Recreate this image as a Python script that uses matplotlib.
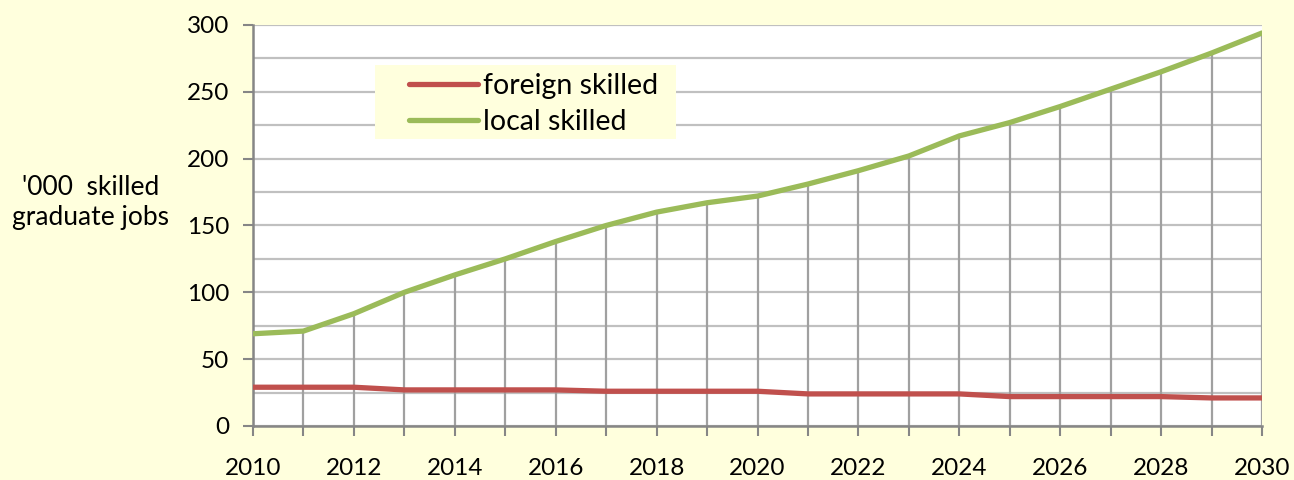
import numpy as np
import matplotlib
matplotlib.use("Agg")
import matplotlib.pyplot as plt
from matplotlib.patches import Rectangle

years = list(range(2010, 2031))
foreign = [29, 29, 29, 27, 27, 27, 27, 26, 26, 26, 26, 24, 24, 24, 24, 22, 22, 22, 22, 21, 21]
local = [69, 71, 84, 100, 113, 125, 138, 150, 160, 167, 172, 181, 191, 202, 217, 227, 239, 252, 265, 279, 294]

plt.rcParams['font.family'] = ['Lato', 'DejaVu Sans']

bg = '#ffffdd'
fig = plt.figure(figsize=(12.94, 4.8), dpi=100, facecolor=bg)
ax = fig.add_axes([0.1955, 0.1125, 0.7798, 0.8355])
ax.set_facecolor('white')

# drop lines from the local series down to zero
ax.vlines(years, 0, local, colors='#a0a0a0', lw=1.6, zorder=1)

ax.plot(years, foreign, color='#c0504d', lw=3.8, solid_capstyle='round', label='foreign skilled', zorder=3)
ax.plot(years, local, color='#9bbb59', lw=3.8, solid_capstyle='round', label='local skilled', zorder=3)

ax.set_xlim(2010, 2030)
ax.set_ylim(0, 300)
ax.set_yticks(np.arange(0, 301, 50))
ax.set_yticks(np.arange(0, 301, 25), minor=True)
ax.set_xticks(np.arange(2010, 2031, 2))
ax.set_xticks(np.arange(2011, 2030, 2), minor=True)
ax.grid(axis='y', which='both', color='#c0c0c0', lw=1.6, zorder=0)
ax.set_axisbelow(True)

for s in ['top', 'right']:
    ax.spines[s].set_visible(False)
for s in ['left', 'bottom']:
    ax.spines[s].set_color('#868686')
    ax.spines[s].set_linewidth(1.8)

ax.tick_params(axis='y', which='major', length=7, width=1.5, color='#868686', labelsize=17.5, pad=10)
ax.tick_params(axis='y', which='minor', length=0)
ax.tick_params(axis='x', which='both', length=7, width=1.5, color='#868686', labelsize=17.5, pad=16)
ax.tick_params(axis='x', which='minor', labelbottom=False)

fig.text(0.07, 0.578, "'000  skilled\ngraduate jobs", ha='center', va='center', fontsize=19, linespacing=1.25)

# legend background box (wider than the legend's own frame)
ax.add_patch(Rectangle((0.121, 0.716), 0.298, 0.185, transform=ax.transAxes,
                       facecolor=bg, edgecolor='none', zorder=4))
leg = ax.legend(loc='center left', bbox_to_anchor=(0.155, 0.802), frameon=False, fontsize=20.5,
                handlelength=2.4, handletextpad=0.2, borderpad=0, labelspacing=0.35,
                borderaxespad=0)
leg.set_zorder(5)

fig.savefig('out.png', dpi=100, facecolor=bg)
